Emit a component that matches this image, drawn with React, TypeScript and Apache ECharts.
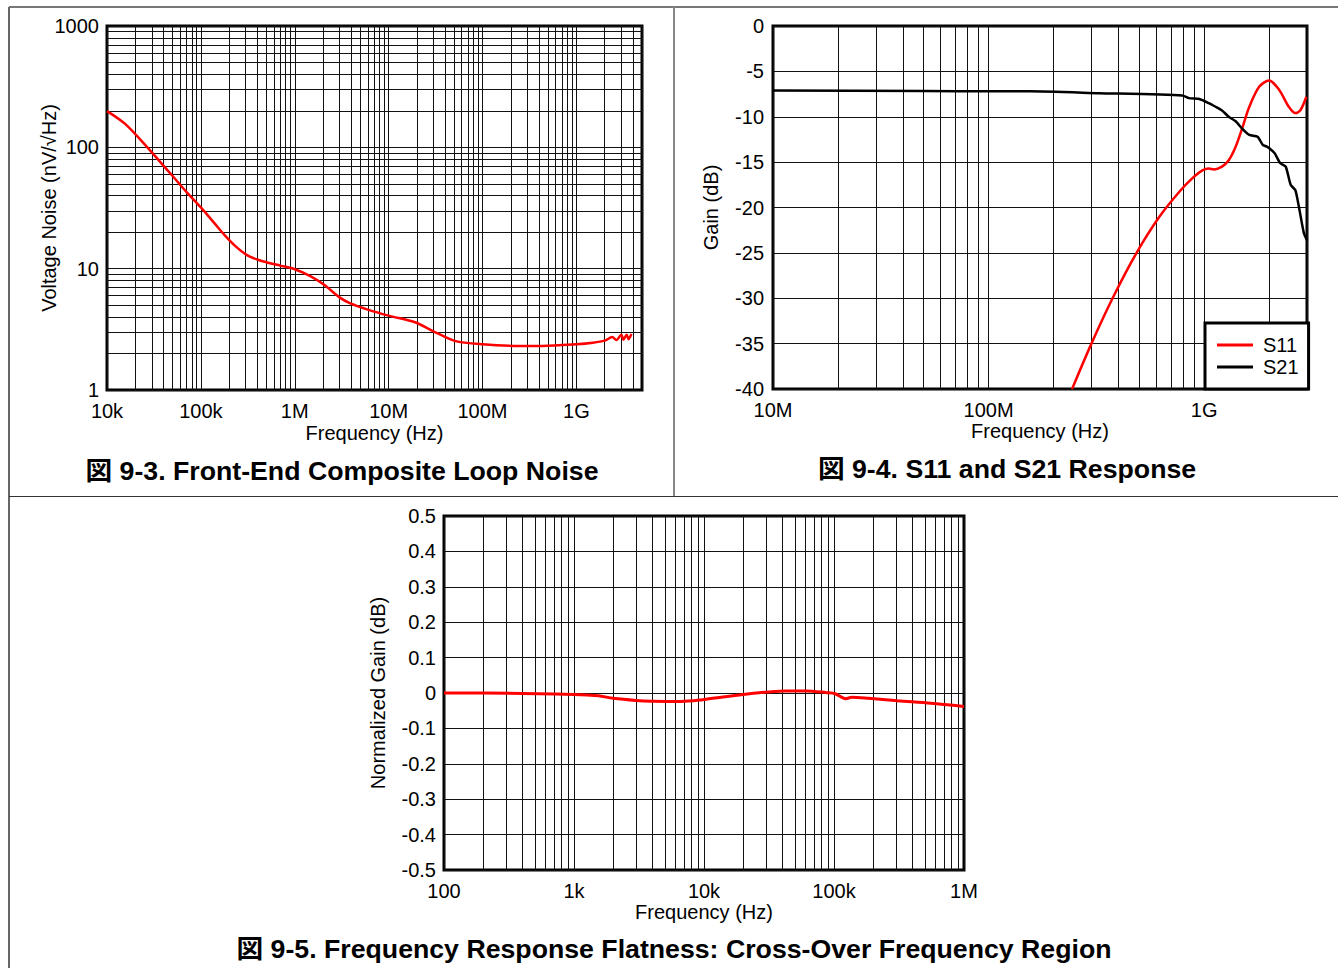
import React, { useEffect, useRef } from 'react';
import * as echarts from 'echarts';

// ---------- Figure 9-3: Front-End Composite Loop Noise ----------
const noiseFreq = [1e4, 1.56e4, 2.66e4, 3.7e4, 5e4, 7e4, 1e5, 1.4e5, 1.8e5, 2.3e5, 3.07e5, 4e5, 5.2e5, 7e5, 1e6, 1.48e6, 2.04e6, 3e6, 3.86e6, 6.0e6, 1e7, 1.94e7, 2.97e7, 5.06e7, 1e8, 2.5e8, 4.3e8, 1e9, 1.5e9, 2.0e9, 2.41e9, 2.67e9, 3.01e9, 3.17e9, 3.43e9, 3.6e9, 3.86e9];
const noiseValue = [199, 156, 101, 75.5, 58, 43, 32, 23.6, 18.8, 15.5, 13.0, 11.9, 11.2, 10.6, 9.9, 8.65, 7.4, 5.8, 5.2, 4.6, 4.1, 3.6, 3.06, 2.54, 2.38, 2.31, 2.31, 2.38, 2.45, 2.55, 2.73, 2.58, 2.85, 2.6, 2.85, 2.62, 2.9];
const noiseXTicks: Record<number, string> = { 4: '10k', 5: '100k', 6: '1M', 7: '10M', 8: '100M', 9: '1G' };
const noiseYTicks: Record<number, string> = { 0: '1', 1: '10', 2: '100', 3: '1000' };

// ---------- Figure 9-4: S11 and S21 Response ----------
const s21Freq = [1e7, 5.1e7, 1e8, 1.55e8, 3.25e8, 7.9e8, 8.5e8, 9.5e8, 1.05e9, 1.13e9, 1.21e9, 1.3e9, 1.4e9, 1.5e9, 1.62e9, 1.77e9, 1.87e9, 1.96e9, 2.12e9, 2.25e9, 2.39e9, 2.52e9, 2.65e9, 2.75e9, 2.9e9, 3e9];
const s21Gain = [-7.1, -7.15, -7.2, -7.2, -7.4, -7.65, -7.95, -8.05, -8.5, -8.9, -9.3, -10.0, -10.5, -11.3, -12.0, -12.2, -13.1, -13.3, -14.0, -15.1, -15.5, -17.5, -18.1, -19.9, -22.8, -23.6];
const s11Freq = [2.44e8, 3.0e8, 3.76e8, 4.83e8, 6.21e8, 7.78e8, 8.93e8, 9.81e8, 1.05e9, 1.11e9, 1.21e9, 1.3e9, 1.4e9, 1.5e9, 1.62e9, 1.8e9, 2.0e9, 2.23e9, 2.47e9, 2.65e9, 2.8e9, 2.98e9];
const s11Gain = [-40, -35, -30, -25.1, -21, -18.1, -16.65, -15.9, -15.7, -15.8, -15.5, -14.8, -13.3, -11.3, -8.9, -6.7, -6.0, -7.05, -8.9, -9.6, -9.25, -7.8];
const sXTicks: Record<number, string> = { 7: '10M', 8: '100M', 9: '1G' };

// ---------- Figure 9-5: Frequency Response Flatness ----------
const flatFreq = [100, 200, 1000, 1540, 2000, 3000, 4000, 6700, 9700, 14000, 20000, 31500, 42000, 61000, 88000, 102000, 123000, 137000, 184000, 308000, 555000, 1e6];
const flatGain = [0, 0, -0.004, -0.008, -0.015, -0.021, -0.023, -0.024, -0.019, -0.011, -0.004, 0.003, 0.006, 0.006, 0.001, -0.002, -0.016, -0.012, -0.015, -0.022, -0.029, -0.038];
const flatXTicks: Record<number, string> = { 2: '100', 3: '1k', 4: '10k', 5: '100k', 6: '1M' };

const titles = [
  '図 9-3. Front-End Composite Loop Noise',
  '図 9-4. S11 and S21 Response',
  '図 9-5. Frequency Response Flatness: Cross-Over Frequency Region',
];

const FONT = "'Liberation Sans', Arial, 'Noto Sans CJK JP', sans-serif";
const GRID_COLOR = '#111';

function logGridValues(minExp: number, maxVal: number): number[] {
  const vals: number[] = [];
  for (let e = minExp; e < 20; e++) {
    for (let m = 1; m < 10; m++) {
      const v = m * Math.pow(10, e);
      if (v > maxVal * 1.0001) return vals;
      vals.push(v);
    }
  }
  return vals;
}

function decadeLabel(map: Record<number, string>) {
  return (v: number) => {
    const e = Math.round(Math.log10(v));
    if (Math.abs(Math.log10(v) - e) > 1e-6) return '';
    return map[e] ?? '';
  };
}

const zip = (xs: number[], ys: number[]) => xs.map((x, i) => [x, ys[i]]);

function gridLineSeries(xi: number, lines: any[]) {
  return {
    type: 'line',
    xAxisIndex: xi,
    yAxisIndex: xi,
    data: [],
    silent: true,
    z: 1,
    markLine: {
      z: 1,
      silent: true,
      symbol: ['none', 'none'],
      label: { show: false },
      emphasis: { disabled: true },
      lineStyle: { color: GRID_COLOR, width: 1, type: 'solid', opacity: 1 },
      data: lines,
    },
  };
}

export default function App() {
  const ref = useRef<HTMLDivElement>(null);
  useEffect(() => {
    if (!ref.current) return;
    const chart = echarts.init(ref.current, null, { renderer: 'svg' });
    const axisLabel = { color: '#000', fontSize: 20, fontFamily: FONT };
    const nameStyle = { color: '#000', fontSize: 20, fontFamily: FONT };
    const gridBase = { show: true, borderColor: '#000', borderWidth: 3, backgroundColor: 'transparent' };

    const xLogAxis = (gi: number, min: number, max: number, split: number, map: Record<number, string>, gap: number) => ({
      type: 'log', logBase: 10, gridIndex: gi, min, max, splitNumber: split,
      name: 'Frequency (Hz)', nameLocation: 'middle', nameGap: gap, nameTextStyle: nameStyle, nameMoveOverlap: false,
      axisLine: { show: false }, axisTick: { show: false }, splitLine: { show: false },
      axisLabel: { ...axisLabel, margin: 11, formatter: decadeLabel(map), showMinLabel: true, showMaxLabel: true, hideOverlap: false },
    });

    const noiseV = logGridValues(4, 5e9).map((v) => ({ xAxis: v }));
    const noiseH = logGridValues(0, 1000).map((v) => ({ yAxis: v }));
    const sV = logGridValues(7, 3e9).map((v) => ({ xAxis: v }));
    const flatV = logGridValues(2, 1e6).map((v) => ({ xAxis: v }));

    const option: any = {
      animation: false,
      textStyle: { fontFamily: FONT },
      grid: [
        { ...gridBase, left: 107, top: 26, width: 535, height: 364 },
        { ...gridBase, left: 773, top: 26, width: 534, height: 363 },
        { ...gridBase, left: 444, top: 516, width: 520, height: 354 },
      ],
      xAxis: [
        xLogAxis(0, 1e4, 5e9, 5, noiseXTicks, 33),
        xLogAxis(1, 1e7, 3e9, 2, sXTicks, 32),
        xLogAxis(2, 100, 1e6, 4, flatXTicks, 32),
      ],
      yAxis: [
        {
          type: 'log', logBase: 10, gridIndex: 0, min: 1, max: 1000, splitNumber: 3,
          name: 'Voltage Noise (nV/√Hz)', nameLocation: 'middle', nameGap: 48, nameTextStyle: nameStyle, nameMoveOverlap: false,
          axisLine: { show: false }, axisTick: { show: false }, splitLine: { show: false },
          axisLabel: { ...axisLabel, margin: 8, formatter: decadeLabel(noiseYTicks) },
        },
        {
          type: 'value', gridIndex: 1, min: -40, max: 0, interval: 5,
          name: 'Gain (dB)', nameLocation: 'middle', nameGap: 52, nameTextStyle: nameStyle, nameMoveOverlap: false,
          axisLine: { show: false }, axisTick: { show: false },
          splitLine: { show: true, lineStyle: { color: GRID_COLOR, width: 1 } },
          axisLabel: { ...axisLabel, margin: 9 },
        },
        {
          type: 'value', gridIndex: 2, min: -0.5, max: 0.5, interval: 0.1,
          name: 'Normalized Gain (dB)', nameLocation: 'middle', nameGap: 56, nameTextStyle: nameStyle, nameMoveOverlap: false,
          axisLine: { show: false }, axisTick: { show: false },
          splitLine: { show: true, lineStyle: { color: GRID_COLOR, width: 1 } },
          axisLabel: {
            ...axisLabel, margin: 8,
            formatter: (v: number) => (Math.abs(v) < 1e-9 ? '0' : v.toFixed(1)),
          },
        },
      ],
      legend: {
        data: ['S11', 'S21'],
        orient: 'vertical',
        left: 1205,
        top: 323,
        z: 10,
        padding: [12, 10, 12, 12],
        itemWidth: 36,
        itemHeight: 3,
        itemGap: 2,
        icon: 'rect',
        backgroundColor: '#fff',
        borderColor: '#000',
        borderWidth: 3,
        borderRadius: 0,
        selectedMode: false,
        textStyle: { color: '#000', fontSize: 20, fontFamily: FONT, lineHeight: 20, padding: [0, 0, 0, 5] },
      },
      series: [
        gridLineSeries(0, [...noiseV, ...noiseH]),
        gridLineSeries(1, sV),
        gridLineSeries(2, flatV),
        {
          type: 'line', name: 'Noise', xAxisIndex: 0, yAxisIndex: 0, z: 3,
          data: zip(noiseFreq, noiseValue), showSymbol: false, smooth: 0.3,
          lineStyle: { color: '#ff0000', width: 2.5 }, itemStyle: { color: '#ff0000' },
        },
        {
          type: 'line', name: 'S11', xAxisIndex: 1, yAxisIndex: 1, z: 3,
          data: zip(s11Freq, s11Gain), showSymbol: false, smooth: 0.3,
          lineStyle: { color: '#ff0000', width: 2.5 }, itemStyle: { color: '#ff0000' },
        },
        {
          type: 'line', name: 'S21', xAxisIndex: 1, yAxisIndex: 1, z: 3,
          data: zip(s21Freq, s21Gain), showSymbol: false, smooth: 0.2,
          lineStyle: { color: '#000', width: 2.5 }, itemStyle: { color: '#000' },
        },
        {
          type: 'line', name: 'Flatness', xAxisIndex: 2, yAxisIndex: 2, z: 3,
          data: zip(flatFreq, flatGain), showSymbol: false, smooth: 0.3,
          lineStyle: { color: '#ff0000', width: 3 }, itemStyle: { color: '#ff0000' },
        },
      ],
      graphic: [
        { type: 'line', shape: { x1: 9, y1: 7, x2: 1338, y2: 7 }, style: { stroke: '#777', lineWidth: 2 } },
        { type: 'line', shape: { x1: 9, y1: 7, x2: 9, y2: 968 }, style: { stroke: '#666', lineWidth: 2 } },
        { type: 'line', shape: { x1: 674, y1: 7, x2: 674, y2: 496 }, style: { stroke: '#888', lineWidth: 2 } },
        { type: 'line', shape: { x1: 9, y1: 496.5, x2: 1338, y2: 496.5 }, style: { stroke: '#333', lineWidth: 1 } },
        { type: 'text', x: 342, y: 471, style: { text: titles[0], align: 'center', verticalAlign: 'middle', fontSize: 26.7, fontWeight: 'bold', fontFamily: FONT, fill: '#000' } },
        { type: 'text', x: 1007, y: 469, style: { text: titles[1], align: 'center', verticalAlign: 'middle', fontSize: 26.7, fontWeight: 'bold', fontFamily: FONT, fill: '#000' } },
        { type: 'text', x: 674, y: 949, style: { text: titles[2], align: 'center', verticalAlign: 'middle', fontSize: 26.7, fontWeight: 'bold', fontFamily: FONT, fill: '#000' } },
      ],
    };
    chart.setOption(option);
    return () => chart.dispose();
  }, []);
  return (
    <div
      ref={ref}
      style={{ position: 'absolute', left: 0, top: 0, width: 1338, height: 968, background: '#fff' }}
    />
  );
}
